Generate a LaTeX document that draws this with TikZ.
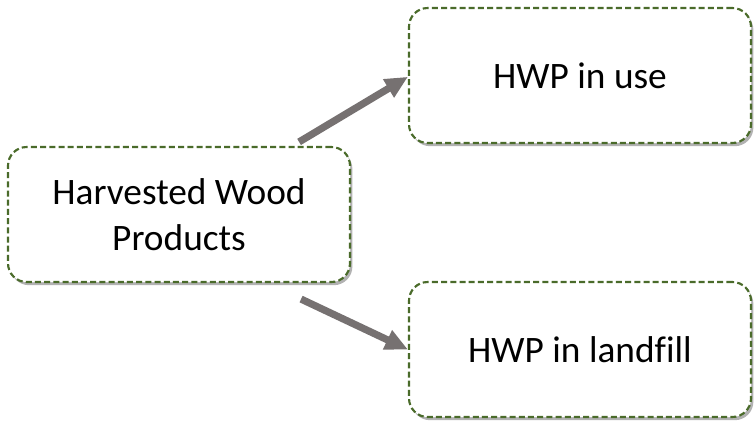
\documentclass[tikz,border=0pt]{standalone}
\usepackage{fontspec}
\setmainfont{Carlito}[Ligatures=NoCommon]
\usetikzlibrary{arrows.meta,shadows,positioning}
\definecolor{boxgreen}{HTML}{4A6B2A}
\definecolor{arrowgray}{HTML}{767171}
\begin{document}
\begin{tikzpicture}[x=0.75pt,y=-0.75pt,
  box/.style={draw=boxgreen, line width=1.6pt, dash pattern=on 4.5pt off 2.4pt,
    rounded corners=14pt, fill=white, minimum width=256.5pt, minimum height=101.25pt,
    align=center, inner sep=0pt, font=\fontsize{28}{34.5}\selectfont,
    drop shadow={shadow xshift=1.8pt, shadow yshift=-2.4pt, opacity=0.5, fill=black!60}},
  flow/.style={draw=arrowgray, line width=5.4pt, -{Triangle[length=17pt,width=15pt]}}]
\useasboundingbox (0,0) rectangle (756,426);
\node[box] (hw) at (179,214.5) {Harvested Wood\\Products};
\node[box] (use) at (580,75.5) {HWP in use};
\node[box] (land) at (580,349.5) {HWP in landfill};
\draw[flow] ([xshift=-39pt,yshift=3pt]hw.north east) -- ([yshift=-1pt]use.west);
\draw[flow] ([xshift=-37.5pt,yshift=-12pt]hw.south east) -- (land.west);
\end{tikzpicture}
\end{document}
